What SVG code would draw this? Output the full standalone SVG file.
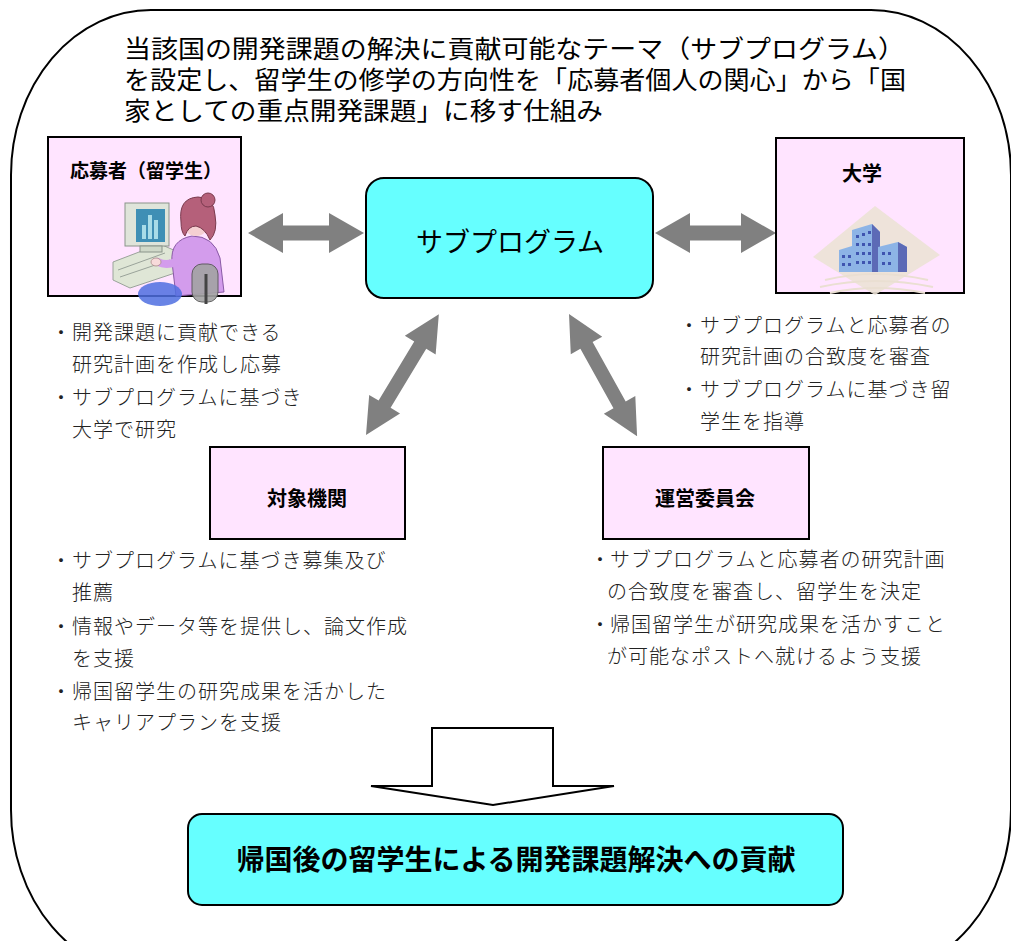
<svg xmlns="http://www.w3.org/2000/svg" width="1011" height="941" viewBox="0 0 1011 941">
  <style>
    .title { font-family: "Noto Sans CJK JP", "Liberation Sans", sans-serif; font-size: 25px; fill: #000; }
    .box { fill: #FFE4FF; stroke: #000; stroke-width: 2; }
    .cyan { fill: #66FFFF; stroke: #000; stroke-width: 2; }
    .label { font-family: "Noto Sans CJK JP", "Liberation Sans", sans-serif; font-size: 20px; font-weight: bold; fill: #000; text-anchor: middle; }
    .note { font-family: "Noto Sans CJK JP", "Liberation Sans", sans-serif; font-size: 20px; font-weight: 300; letter-spacing: 1px; fill: #222; }
    .dot { font-family: "Noto Sans CJK JP", "Liberation Sans", sans-serif; font-size: 20px; font-weight: 300; fill: #222; text-anchor: middle; }
    .arrow { fill: #808080; }
  </style>

  <!-- outer frame -->
  <rect x="11" y="10" width="1000" height="965" rx="140" ry="165" fill="#fff" stroke="#000" stroke-width="2"/>

  <!-- heading -->
  <g id="heading">
    <text class="title" x="124" y="58" textLength="781" lengthAdjust="spacingAndGlyphs">当該国の開発課題の解決に貢献可能なテーマ（サブプログラム）</text>
    <text class="title" x="124" y="89" textLength="782" lengthAdjust="spacingAndGlyphs">を設定し、留学生の修学の方向性を「応募者個人の関心」から「国</text>
    <text class="title" x="124" y="120" textLength="479" lengthAdjust="spacingAndGlyphs">家としての重点開発課題」に移す仕組み</text>
  </g>

  <!-- connectors -->
  <g id="connectors">
    <polygon class="arrow" transform="translate(248,233)" points="0,0 35,-20 35,-7.5 81,-7.5 81,-20 116,0 81,20 81,7.5 35,7.5 35,20"/>
    <polygon class="arrow" transform="translate(655,233)" points="0,0 35,-20 35,-7.5 86,-7.5 86,-20 121,0 86,20 86,7.5 35,7.5 35,20"/>
    <polygon class="arrow" transform="translate(366,435) rotate(-58.9)" points="0,0 36,-18 36,-7 105,-7 105,-18 141,0 105,18 105,7 36,7 36,18"/>
    <polygon class="arrow" transform="translate(569,314) rotate(60.9)" points="0,0 36,-18 36,-7 104,-7 104,-18 140,0 104,18 104,7 36,7 36,18"/>
    <!-- hollow down arrow -->
    <polygon points="432,728 553,728 553,786 614,786 493,805 371,786 432,786" fill="#fff" stroke="#000" stroke-width="2" stroke-linejoin="miter"/>
  </g>

  <!-- applicant -->
  <g id="applicant">
    <rect class="box" x="48" y="137" width="193" height="159"/>
    <text class="label" x="146" y="178" style="font-size:19px">応募者（留学生）</text>
    <!-- computer -->
    <polygon points="113,262 160,244 178,252 178,272 130,288 113,280" fill="#dfe6d6" stroke="#9aa39a" stroke-width="1"/>
    <line x1="118" y1="270" x2="165" y2="253" stroke="#9aa39a"/>
    <line x1="120" y1="277" x2="170" y2="260" stroke="#9aa39a"/>
    <rect x="125" y="203" width="44" height="43" fill="#dfe4da" stroke="#8a948a" stroke-width="1"/>
    <rect x="136" y="209" width="29" height="33" fill="#3f8fb5"/>
    <rect x="142" y="225" width="4" height="14" fill="#a8dce8"/>
    <rect x="148" y="215" width="4" height="24" fill="#a8dce8"/>
    <rect x="154" y="220" width="4" height="19" fill="#a8dce8"/>
    <rect x="140" y="246" width="22" height="6" fill="#cfd8c8" stroke="#8a948a" stroke-width="1"/>
    <!-- person -->
    <path d="M172,262 Q170,240 192,236 Q214,236 220,258 L224,292 L176,296 Z" fill="#d39cec" stroke="#8a5aa6" stroke-width="1"/>
    <path d="M176,262 Q166,266 158,262" fill="none" stroke="#d39cec" stroke-width="8" stroke-linecap="round"/>
    <ellipse cx="156" cy="262" rx="5" ry="4" fill="#f7dada" stroke="#a88" stroke-width="0.8"/>
    <ellipse cx="196" cy="218" rx="15" ry="18" fill="#f5cfd2"/>
    <path d="M181,222 Q178,198 198,197 Q214,197 215,215 Q218,232 210,240 Q205,228 196,226 Q188,226 185,236 Q181,232 181,222 Z" fill="#b5607a" stroke="#7a3a4e" stroke-width="1"/>
    <circle cx="208" cy="200" r="7" fill="#b5607a" stroke="#7a3a4e" stroke-width="1"/>
    <!-- chair -->
    <rect x="192" y="264" width="26" height="38" rx="10" fill="#a3a3a3" stroke="#555" stroke-width="1" opacity="0.9"/>
    <line x1="206" y1="274" x2="206" y2="304" stroke="#444" stroke-width="3"/>
    <ellipse cx="160" cy="294" rx="22" ry="12" fill="#4f6fe0" opacity="0.85"/>
  </g>

  <!-- subprogram -->
  <g id="subprogram">
    <rect class="cyan" x="366" y="178" width="287" height="120" rx="18"/>
    <text x="510" y="252" font-family="Noto Sans CJK JP, sans-serif" font-size="27" text-anchor="middle" fill="#000">サブプログラム</text>
  </g>

  <!-- university -->
  <g id="university">
    <rect class="box" x="776" y="138" width="188" height="155"/>
    <text class="label" x="862" y="181">大学</text>
    <polygon points="813,257 875,206 940,255 875,295" fill="#ece2d6" opacity="0.9"/>
    <polygon points="876,228 880,240 880,272 876,272" fill="#c7bfa8"/>
    <polygon points="852,230 872,224 880,232 880,272 852,272" fill="#8db4e6"/>
    <polygon points="872,224 880,232 880,272 872,272" fill="#5c6ab6"/>
    <polygon points="839,250 852,246 856,250 856,272 839,272" fill="#8db4e6"/>
    <polygon points="878,247 898,242 907,247 907,272 878,272" fill="#8db4e6"/>
    <polygon points="898,242 907,247 907,272 898,272" fill="#5c6ab6"/>
    <g fill="#3f55b0">
      <rect x="856" y="235" width="3" height="3"/><rect x="862" y="233" width="3" height="3"/><rect x="868" y="231" width="3" height="3"/>
      <rect x="856" y="243" width="3" height="3"/><rect x="862" y="243" width="3" height="3"/><rect x="868" y="243" width="3" height="3"/>
      <rect x="856" y="252" width="3" height="3"/><rect x="862" y="252" width="3" height="3"/><rect x="868" y="252" width="3" height="3"/>
      <rect x="856" y="261" width="3" height="3"/><rect x="862" y="261" width="3" height="3"/><rect x="868" y="261" width="3" height="3"/>
      <rect x="842" y="255" width="3" height="3"/><rect x="848" y="255" width="3" height="3"/>
      <rect x="842" y="263" width="3" height="3"/><rect x="848" y="263" width="3" height="3"/>
      <rect x="882" y="252" width="3" height="3"/><rect x="888" y="252" width="3" height="3"/>
      <rect x="882" y="262" width="3" height="3"/><rect x="888" y="262" width="3" height="3"/>
    </g>
    <g fill="none" stroke="#eadfd2" stroke-width="2">
      <path d="M825,280 Q875,268 928,280"/>
      <path d="M820,287 Q875,275 933,287"/>
      <path d="M830,293 Q875,283 925,293"/>
    </g>
  </g>

  <!-- target institution -->
  <g id="target-institution">
    <rect class="box" x="210" y="447" width="195" height="92"/>
    <text class="label" x="307" y="506">対象機関</text>
  </g>

  <!-- steering committee -->
  <g id="steering-committee">
    <rect class="box" x="603" y="447" width="206" height="92"/>
    <text class="label" x="705" y="506">運営委員会</text>
  </g>

  <!-- result -->
  <g id="result">
    <rect class="cyan" x="188" y="814" width="655" height="91" rx="14"/>
    <text x="516" y="870" font-family="Noto Sans CJK JP, sans-serif" font-size="28" font-weight="bold" text-anchor="middle" fill="#000">帰国後の留学生による開発課題解決への貢献</text>
  </g>

  <!-- role notes -->
  <g id="applicant-notes">
    <text class="dot" x="61" y="340">・</text>
    <text class="note" x="72" y="340">開発課題に貢献できる</text>
    <text class="note" x="72" y="372">研究計画を作成し応募</text>
    <text class="dot" x="61" y="405">・</text>
    <text class="note" x="72" y="405">サブプログラムに基づき</text>
    <text class="note" x="72" y="437">大学で研究</text>
  </g>

  <g id="university-notes">
    <text class="dot" x="689" y="333">・</text>
    <text class="note" x="700" y="333">サブプログラムと応募者の</text>
    <text class="note" x="700" y="364">研究計画の合致度を審査</text>
    <text class="dot" x="689" y="397">・</text>
    <text class="note" x="700" y="397">サブプログラムに基づき留</text>
    <text class="note" x="700" y="429">学生を指導</text>
  </g>

  <g id="institution-notes">
    <text class="dot" x="61" y="568">・</text>
    <text class="note" x="72" y="568">サブプログラムに基づき募集及び</text>
    <text class="note" x="72" y="600">推薦</text>
    <text class="dot" x="61" y="634">・</text>
    <text class="note" x="72" y="634">情報やデータ等を提供し、論文作成</text>
    <text class="note" x="72" y="666">を支援</text>
    <text class="dot" x="61" y="699">・</text>
    <text class="note" x="72" y="699">帰国留学生の研究成果を活かした</text>
    <text class="note" x="72" y="730">キャリアプランを支援</text>
  </g>

  <g id="committee-notes">
    <text class="dot" x="600" y="567">・</text>
    <text class="note" x="610" y="567">サブプログラムと応募者の研究計画</text>
    <text class="note" x="607" y="599">の合致度を審査し、留学生を決定</text>
    <text class="dot" x="600" y="632">・</text>
    <text class="note" x="610" y="632">帰国留学生が研究成果を活かすこと</text>
    <text class="note" x="607" y="664">が可能なポストへ就けるよう支援</text>
  </g>
</svg>
